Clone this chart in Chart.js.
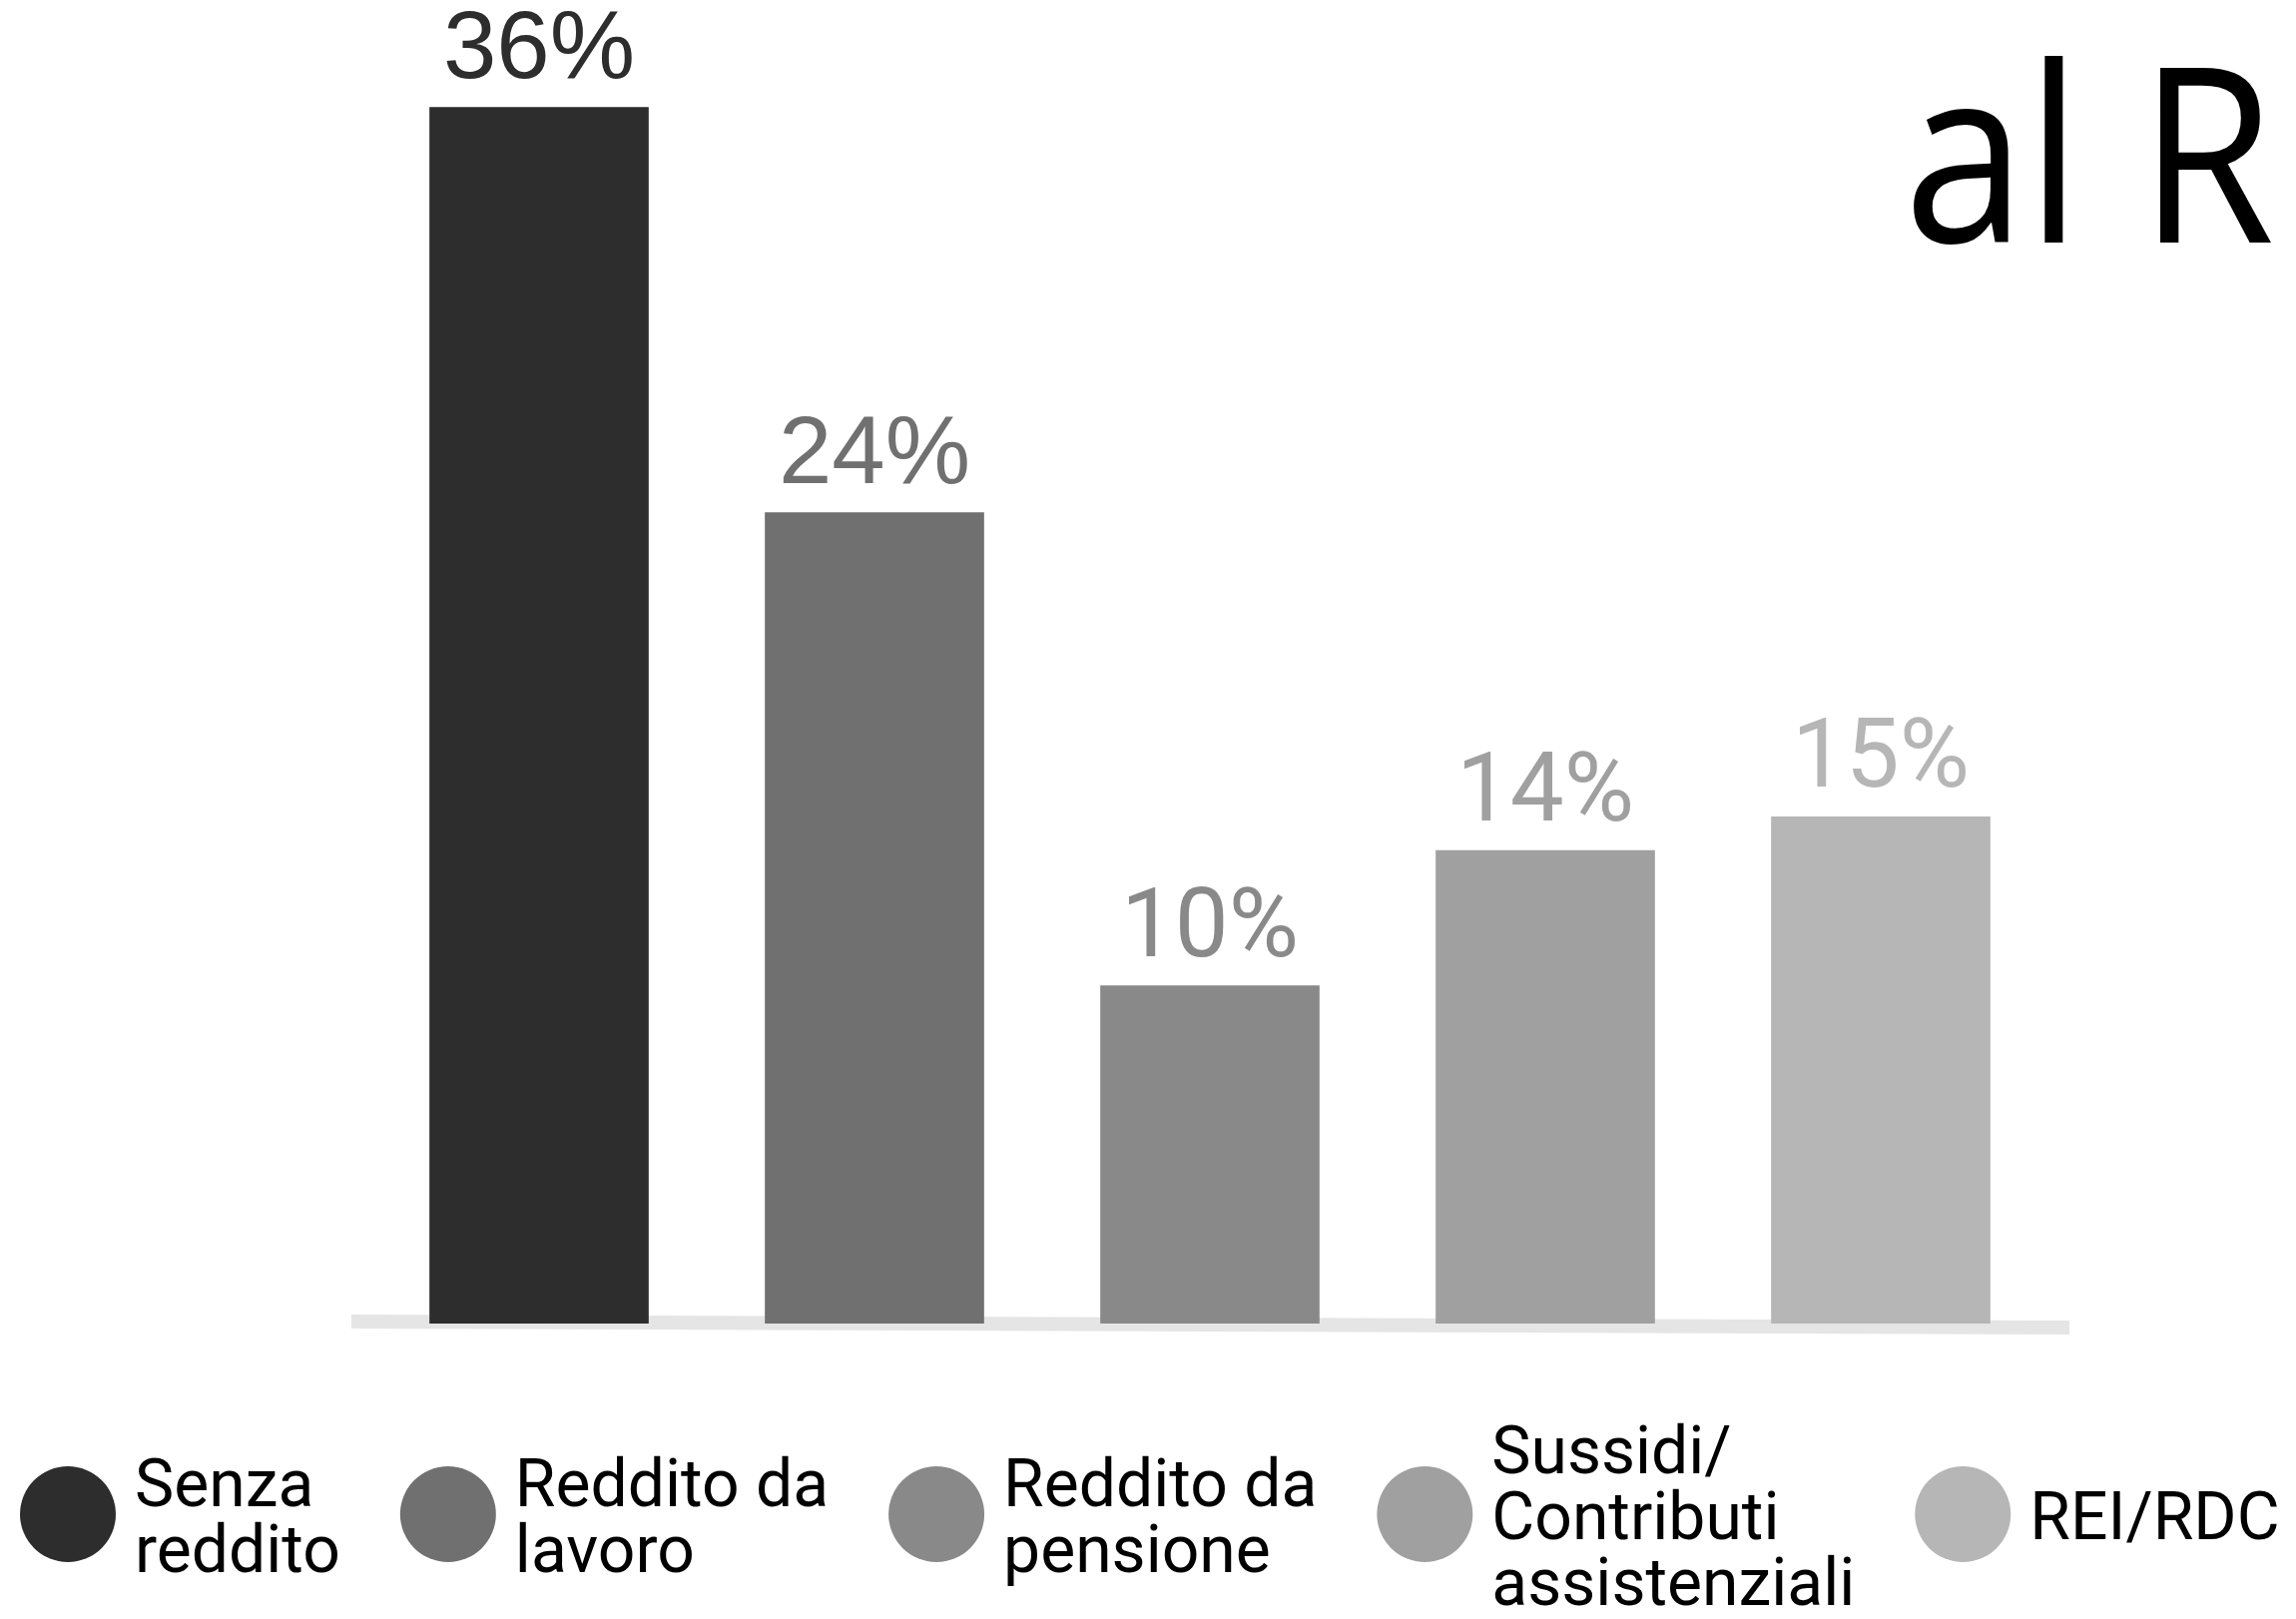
<!DOCTYPE html>
<html>
<head>
<meta charset="utf-8">
<script src="https://cdn.jsdelivr.net/npm/chart.js@4.4.0/dist/chart.umd.min.js"></script>
<style>
  html, body { margin: 0; padding: 0; background: #fff; }
  #wrap { width: 2300px; height: 1622px; position: relative; }
</style>
</head>
<body>
<div id="wrap"><canvas id="chart" width="2300" height="1622"></canvas></div>
<script>
// data
const categories = [
    ['Senza', 'reddito'],
    ['Reddito da', 'lavoro'],
    ['Reddito da', 'pensione'],
    ['Sussidi/', 'Contributi', 'assistenziali'],
    ['REI/RDC']
];
const percentages = [36, 24, 10, 14, 15];
const barColors = ['#2d2d2d', '#707070', '#898989', '#a0a0a0', '#b6b6b6'];
const titleText = 'al R';

// value labels above the bars
const valueLabels = {
    id: 'valueLabels',
    afterDatasetsDraw(chart) {
        const ctx = chart.ctx;
        const meta = chart.getDatasetMeta(0);
        const fonts = ['"Liberation Sans"', '"Liberation Sans"', 'Roboto', 'Roboto', 'Roboto'];
        ctx.save();
        ctx.textAlign = 'center';
        ctx.textBaseline = 'alphabetic';
        meta.data.forEach(function (bar, i) {
            ctx.font = '96px ' + fonts[i];
            ctx.fillStyle = barColors[i];
            ctx.fillText(percentages[i] + '%', bar.x, bar.y - 30);
        });
        ctx.restore();
    }
};

// grey base band behind the bars
const baseBand = {
    id: 'baseBand',
    beforeDatasetsDraw(chart) {
        const ctx = chart.ctx;
        const y0 = chart.scales.y.getPixelForValue(0);
        ctx.save();
        ctx.fillStyle = '#e5e5e5';
        ctx.beginPath();
        ctx.moveTo(352, y0 - 9);
        ctx.lineTo(2073, y0 - 3);
        ctx.lineTo(2073, y0 + 11);
        ctx.lineTo(352, y0 + 5);
        ctx.closePath();
        ctx.fill();
        ctx.restore();
    }
};

// legend with round markers and multi-line labels, plus the cut title
const sideLegend = {
    id: 'sideLegend',
    afterDraw(chart) {
        const ctx = chart.ctx;
        ctx.save();

        // title is cut by the right edge, narrow it a bit
        ctx.save();
        ctx.translate(1907, 243);
        ctx.scale(0.9, 1);
        ctx.font = '245px "Open Sans"';
        ctx.fillStyle = '#000';
        ctx.textAlign = 'left';
        ctx.fillText(titleText, 0, 0);
        ctx.restore();

        ctx.font = '66px Roboto';
        const cy = 1517;
        const lineH = 66;
        let x = 20;
        categories.forEach(function (lines, i) {
            ctx.fillStyle = barColors[i];
            ctx.beginPath();
            ctx.arc(x + 48, cy, 48, 0, Math.PI * 2);
            ctx.fill();

            const tx = x + 115;
            let maxW = 0;
            ctx.fillStyle = '#000';
            lines.forEach(function (line, j) {
                const by = cy + 25 + (j - (lines.length - 1) / 2) * lineH;
                ctx.fillText(line, tx, by);
                maxW = Math.max(maxW, ctx.measureText(line).width);
            });
            x = tx + maxW + 60;
        });
        ctx.restore();
    }
};

new Chart(document.getElementById('chart').getContext('2d'), {
    type: 'bar',
    data: {
        labels: categories.map(function (c) { return c.join(' '); }),
        datasets: [{
            data: percentages,
            backgroundColor: barColors,
            borderWidth: 0,
            barThickness: 219
        }]
    },
    options: {
        responsive: false,
        animation: false,
        layout: {
            padding: { left: 372, right: 248, top: 6, bottom: 296 }
        },
        plugins: {
            legend: { display: false },
            tooltip: { enabled: false }
        },
        scales: {
            x: { display: false },
            y: { display: false, min: 0, max: 39 }
        }
    },
    plugins: [baseBand, valueLabels, sideLegend]
});
</script>
</body>
</html>
